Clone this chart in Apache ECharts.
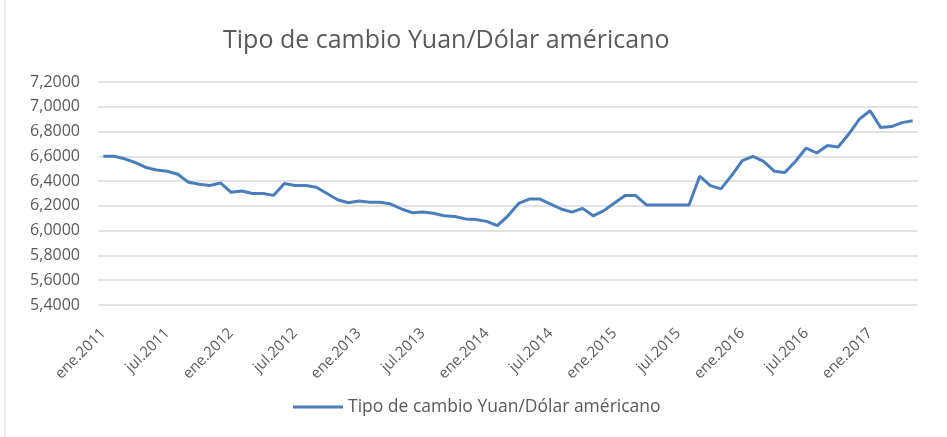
<!DOCTYPE html>
<html>
<head>
<meta charset="utf-8">
<script src="https://cdn.jsdelivr.net/npm/echarts@6/dist/echarts.min.js"></script>
<style>
  html, body { margin: 0; padding: 0; background: #fff; }
  #main { width: 947px; height: 437px; }
</style>
</head>
<body>
<div id="main"></div>
<script>
var meses = ['ene', 'feb', 'mar', 'abr', 'may', 'jun', 'jul', 'ago', 'sep', 'oct', 'nov', 'dic'];
var anios = [2011, 2012, 2013, 2014, 2015, 2016, 2017];

// ene.2011 - may.2017
var categorias = [];
anios.forEach(function (a) {
    meses.forEach(function (m, i) {
        if (a === 2017 && i > 4) return;
        categorias.push(m + '.' + a);
    });
});

var tipoCambio = [
    6.600, 6.600, 6.580, 6.550, 6.510, 6.490, 6.480, 6.455, 6.390, 6.375, 6.365, 6.385,
    6.310, 6.320, 6.300, 6.300, 6.285, 6.380, 6.365, 6.365, 6.350, 6.300, 6.250, 6.225,
    6.240, 6.230, 6.230, 6.215, 6.175, 6.145, 6.150, 6.140, 6.120, 6.115, 6.095, 6.090,
    6.075, 6.040, 6.120, 6.220, 6.255, 6.255, 6.215, 6.175, 6.150, 6.180, 6.120, 6.162,
    6.224, 6.283, 6.283, 6.208, 6.208, 6.208, 6.208, 6.208, 6.440, 6.364, 6.337, 6.445,
    6.566, 6.600, 6.560, 6.480, 6.470, 6.560, 6.667, 6.627, 6.688, 6.675, 6.780, 6.900,
    6.968, 6.832, 6.840, 6.872, 6.888
];

var yMin = 5.4;
var yMax = 7.2;
var yPaso = 0.2;

var serieNombre = 'Tipo de cambio Yuan/Dólar américano';

var myChart = echarts.init(document.getElementById('main'));

var option = {
    animation: false,
    textStyle: {
        fontFamily: 'Open Sans',
    },
    title: {
        text: 'Tipo de cambio Yuan/Dólar américano',
        left: 218,
        top: 23,
        textStyle: {
            color: '#595959',
            fontSize: 25,
            fontWeight: 'normal',
            fontFamily: 'Open Sans',
        },
    },
    legend: {
        data: [serieNombre],
        left: 293,
        top: 398,
        padding: 0,
        icon: 'rect',
        itemWidth: 50,
        itemHeight: 3,
        textStyle: {
            color: '#595959',
            fontSize: 17.5,
        },
    },
    grid: {
        left: 98,
        right: 29,
        top: 82,
        bottom: 132,
    },
    xAxis: {
        type: 'category',
        boundaryGap: true,
        data: categorias,
        axisLine: {
            show: false,
        },
        axisTick: {
            show: false,
        },
        axisLabel: {
            interval: 5,
            rotate: 45,
            margin: 26,
            color: '#595959',
            fontSize: 15,
        },
    },
    yAxis: {
        type: 'value',
        min: yMin,
        max: yMax,
        interval: yPaso,
        axisLine: {
            show: false,
        },
        axisTick: {
            show: false,
        },
        axisLabel: {
            margin: 18,
            color: '#595959',
            fontSize: 16,
            padding: [5, 0, 0, 0],
            formatter: function (v) {
                return v.toFixed(4).replace('.', ',');
            }
        },
        splitLine: {
            lineStyle: {
                color: '#d9d9d9',
                width: 1.5,
            },
        },
    },
    graphic: [{
        type: 'line',
        shape: { x1: 5, y1: 0, x2: 5, y2: 437 },
        style: { stroke: '#d9d9d9', lineWidth: 1 },
    }],
    series: [{
        name: serieNombre,
        type: 'line',
        data: tipoCambio,
        symbol: 'none',
        lineStyle: {
            color: '#4a7ebb',
            width: 3,
        },
        itemStyle: {
            color: '#4a7ebb',
        },
    }]
};

myChart.setOption(option);
</script>
</body>
</html>
